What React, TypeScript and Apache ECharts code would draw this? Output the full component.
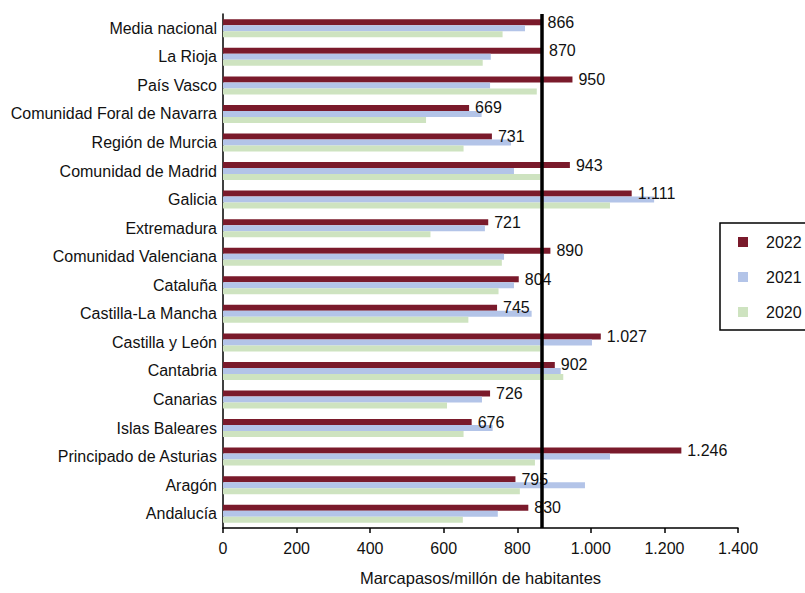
import React, { useEffect, useRef } from "react";
import * as echarts from "echarts";

// Regions, top to bottom
const categories = [
  "Media nacional",
  "La Rioja",
  "País Vasco",
  "Comunidad Foral de Navarra",
  "Región de Murcia",
  "Comunidad de Madrid",
  "Galicia",
  "Extremadura",
  "Comunidad Valenciana",
  "Cataluña",
  "Castilla-La Mancha",
  "Castilla y León",
  "Cantabria",
  "Canarias",
  "Islas Baleares",
  "Principado de Asturias",
  "Aragón",
  "Andalucía",
];

// Marcapasos por millón de habitantes
const values2022 = [866, 870, 950, 669, 731, 943, 1111, 721, 890, 804, 745, 1027, 902, 726, 676, 1246, 795, 830];
const values2021 = [821, 728, 726, 703, 783, 791, 1172, 712, 764, 791, 839, 1003, 918, 704, 733, 1052, 984, 747];
const values2020 = [760, 706, 853, 552, 654, 862, 1052, 564, 758, 749, 667, 862, 925, 609, 654, 848, 807, 652];

const years = ["2022", "2021", "2020"];
const colors = ["#7a1a2b", "#b3c4e8", "#cee3c0"];

const xTicks = { min: 0, max: 1400, interval: 200 };

const FONT = "'Liberation Sans', Arial, Helvetica, sans-serif";

// Spanish thousands separator: 1246 -> "1.246"
function fmt(v: number): string {
  return String(Math.round(v)).replace(/\B(?=(\d{3})+(?!\d))/g, ".");
}

export default function App() {
  const ref = useRef<HTMLDivElement>(null);

  useEffect(() => {
    if (!ref.current) return;
    const chart = echarts.init(ref.current, undefined, { renderer: "svg" });
    const nationalMean = values2022[0];

    chart.setOption({
      animation: false,
      backgroundColor: "#ffffff",
      textStyle: { fontFamily: FONT },
      grid: { left: 223, right: 67, top: 14, bottom: 65, containLabel: false },
      legend: {
        data: years,
        orient: "vertical",
        left: 720,
        top: 223,
        padding: [9, 60, 8, 18],
        itemGap: 15,
        itemWidth: 10,
        itemHeight: 10,
        icon: "rect",
        borderColor: "#000",
        borderWidth: 1.5,
        textStyle: {
          fontSize: 16,
          color: "#111",
          fontFamily: FONT,
          lineHeight: 20,
          padding: [0, 0, 0, 13],
        },
      },
      xAxis: {
        type: "value",
        min: xTicks.min,
        max: xTicks.max,
        interval: xTicks.interval,
        name: "Marcapasos/millón de habitantes",
        nameLocation: "middle",
        nameGap: 41,
        nameTextStyle: { fontSize: 16.5, color: "#111", fontFamily: FONT },
        axisLine: { show: true, lineStyle: { color: "#000", width: 1.5 } },
        axisTick: { show: true, length: 5, lineStyle: { color: "#000", width: 1.5 } },
        axisLabel: { fontSize: 16, color: "#111", margin: 12, formatter: (v: number) => fmt(v) },
        splitLine: { show: false },
      },
      yAxis: {
        type: "category",
        data: categories,
        inverse: true,
        axisLine: { show: true, lineStyle: { color: "#000", width: 1.5 } },
        axisTick: { show: false },
        axisLabel: { fontSize: 16, color: "#111", margin: 6 },
        splitLine: { show: false },
      },
      series: [
        {
          name: years[0],
          type: "bar",
          data: values2022,
          barWidth: 6,
          barGap: "0%",
          itemStyle: { color: colors[0] },
          label: {
            show: true,
            position: "right",
            distance: 6,
            fontSize: 16,
            color: "#111",
            fontFamily: FONT,
            formatter: (p: any) => fmt(p.value),
          },
          markLine: {
            silent: true,
            symbol: "none",
            label: { show: false },
            lineStyle: { color: "#000", width: 3.5, type: "solid" },
            data: [{ xAxis: nationalMean }],
          },
        },
        {
          name: years[1],
          type: "bar",
          data: values2021,
          barWidth: 6,
          barGap: "0%",
          itemStyle: { color: colors[1] },
        },
        {
          name: years[2],
          type: "bar",
          data: values2020,
          barWidth: 6,
          barGap: "0%",
          itemStyle: { color: colors[2] },
        },
      ],
    });

    return () => chart.dispose();
  }, []);

  return (
    <div
      ref={ref}
      style={{ position: "fixed", left: 0, top: 0, width: 805, height: 593 }}
    />
  );
}
